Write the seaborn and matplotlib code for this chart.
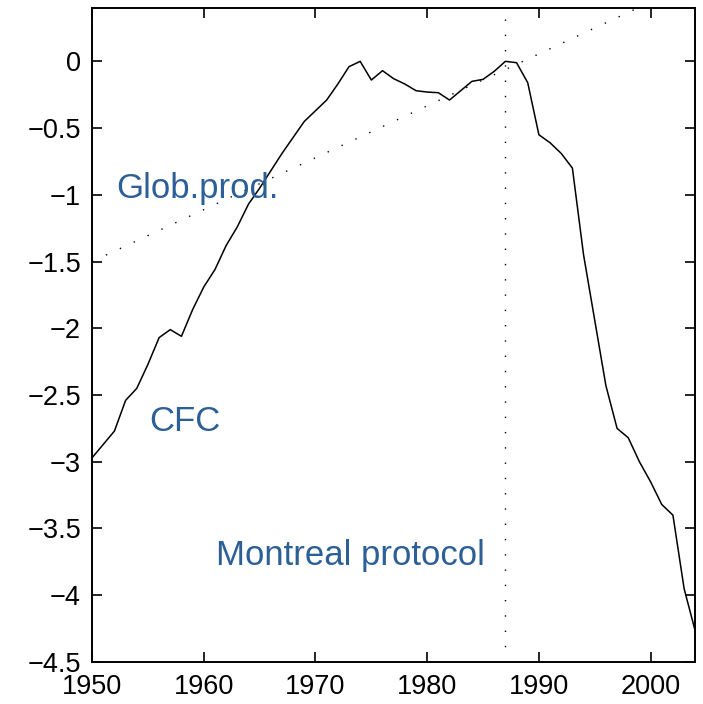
import numpy as np
import pandas as pd
import matplotlib
matplotlib.use("Agg")
import matplotlib.pyplot as plt
import seaborn as sns

# CFC curve (log scale, relative to peak)
years = list(range(1950, 2005))
cfc = [-2.97, -2.87, -2.77, -2.54, -2.45, -2.27, -2.07, -2.01, -2.06, -1.86,
       -1.69, -1.56, -1.38, -1.24, -1.07, -0.95, -0.82, -0.69, -0.57, -0.45,
       -0.37, -0.29, -0.17, -0.04, 0.00, -0.14, -0.07, -0.13, -0.17, -0.22,
       -0.23, -0.235, -0.29, -0.22, -0.15, -0.135, -0.075, 0.00, -0.01, -0.16,
       -0.55, -0.61, -0.69, -0.80, -1.45, -1.94, -2.43, -2.75, -2.82, -3.00,
       -3.15, -3.32, -3.40, -3.95, -4.27]

# global production trend (dotted)
glob_years = [1950, 2004]
glob_vals = [-1.5, 0.6]

montreal_year = 1987

xticks = [1950, 1960, 1970, 1980, 1990, 2000]
yticks = [0, -0.5, -1, -1.5, -2, -2.5, -3, -3.5, -4, -4.5]

sns.set_style("ticks")
plt.rcParams['font.family'] = ['Liberation Sans', 'DejaVu Sans']

df = pd.DataFrame({'year': years, 'cfc': cfc})
gdf = pd.DataFrame({'year': glob_years, 'val': glob_vals})

fig = plt.figure(figsize=(7.03, 7.04), dpi=100)
ax = fig.add_axes([0.131, 0.0597, 0.858, 0.929])

sns.lineplot(data=df, x='year', y='cfc', ax=ax, color='black', lw=1.1)
sns.lineplot(data=gdf, x='year', y='val', ax=ax, color='black', lw=1.0,
             linestyle=(0, (1, 10)))
ax.axvline(montreal_year, color='black', lw=1.0, linestyle=(0, (1, 10)))

ax.set_xlim(1950, 2004)
ax.set_ylim(-4.5, 0.4)
ax.set_xticks(xticks)
ax.set_yticks(yticks)
ax.set_yticklabels([f"{v:g}".replace('-', '\u2212') for v in yticks])
ax.set_xlabel('')
ax.set_ylabel('')
ax.tick_params(direction='in', length=7, width=1.2, labelsize=19.5,
               top=True, right=True, colors='black', labelcolor='black')
ax.tick_params(axis='x', pad=9)
ax.tick_params(axis='y', pad=8)
for s in ax.spines.values():
    s.set_visible(True)
    s.set_linewidth(1.4)
    s.set_color('black')

blue = '#2c5f96'
ax.text(1952.2, -0.95, 'Glob.prod.', color=blue, fontsize=25, va='center')
ax.text(1955.1, -2.70, 'CFC', color=blue, fontsize=25, va='center')
ax.text(1961.1, -3.70, 'Montreal protocol', color=blue, fontsize=25, va='center')

fig.savefig('out.png', dpi=100)
